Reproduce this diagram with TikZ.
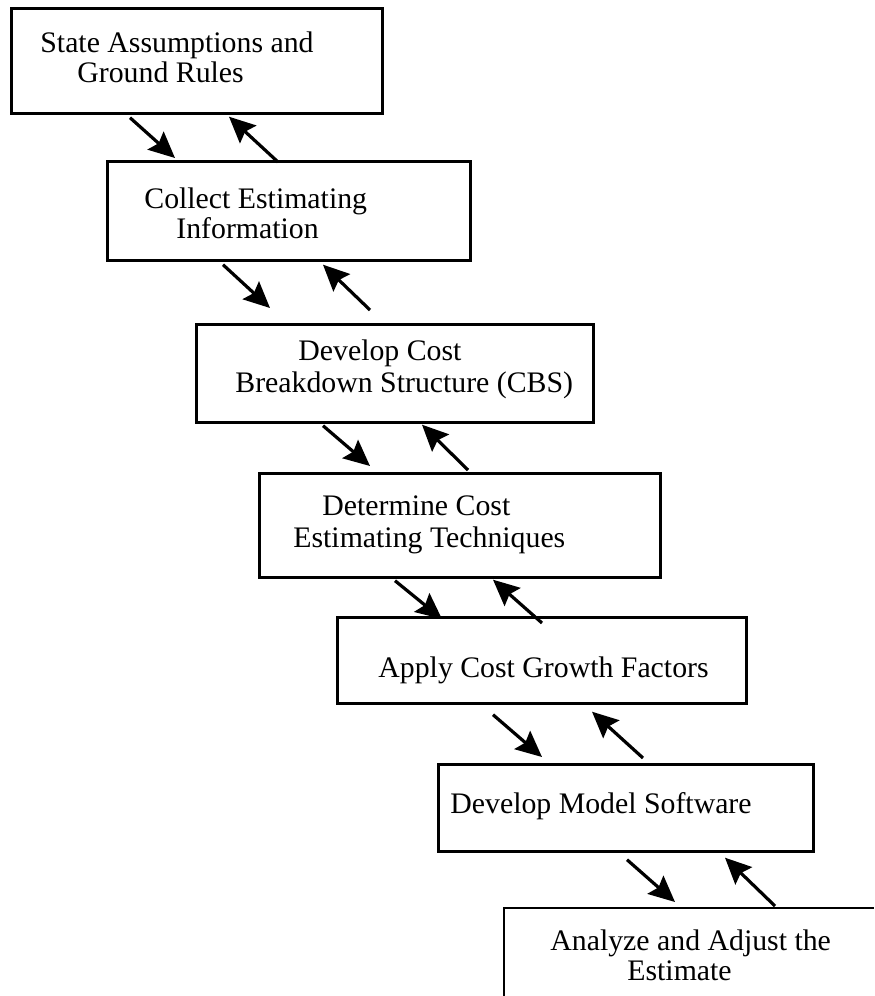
\documentclass[tikz,border=0pt]{standalone}
\usepackage{fontspec}
\setmainfont{Liberation Serif}
\usetikzlibrary{arrows.meta}
\begin{document}
\begin{tikzpicture}[x=0.5pt,y=-0.5pt,
  box/.style={draw, line width=1.35pt, anchor=north west, inner sep=0pt},
  lbl/.style={anchor=base west, inner sep=0pt, font=\fontsize{14.9}{16}\selectfont},
  arr/.style={line width=1.6pt, -{Stealth[length=13pt,width=12pt,inset=2pt]}}]
\useasboundingbox (0,0) rectangle (874,996);

% process boxes
\node[box, minimum width=185.5pt, minimum height=52.5pt] (b1) at (10,7) {};
\node[box, minimum width=181.5pt, minimum height=49.5pt] (b2) at (106,160) {};
\node[box, minimum width=198.5pt, minimum height=49pt]   (b3) at (195,323) {};
\node[box, minimum width=200.5pt, minimum height=52pt]   (b4) at (258,472) {};
\node[box, minimum width=204.5pt, minimum height=43pt]   (b5) at (336,616) {};
\node[box, minimum width=187.5pt, minimum height=43.5pt] (b6) at (437,763) {};
% last box runs off the right edge of the page
\node[box, draw=none, minimum width=230pt, minimum height=43.5pt] (b7) at (504,908) {};
\draw[line width=1.35pt] (b7.south west) -- (b7.north west) -- ([shift={(370,0)}]b7.north west);
\draw[line width=1.35pt] ([shift={(173,0)}]b7.south west) -- ([shift={(370,0)}]b7.south west);

% box texts
\node[lbl] (t1a) at (40,52)  {State Assumptions and};
\node[lbl] (t1b) at (77,82)  {Ground Rules};
\node[lbl] (t2a) at (144,208) {Collect Estimating};
\node[lbl] (t2b) at (176,238) {Information};
\node[lbl] (t3a) at (298,360) {Develop Cost};
\node[lbl] (t3b) at (235,392) {Breakdown Structure (CBS)};
\node[lbl] (t4a) at (322,515) {Determine Cost};
\node[lbl] (t4b) at (293,547) {Estimating Techniques};
\node[lbl] (t5a) at (378,677) {Apply Cost Growth Factors};
\node[lbl] (t6a) at (450,813) {Develop Model Software};
\node[lbl] (t7a) at (550,950) {Analyze and Adjust the};
\node[lbl] (t7b) at (627,980) {Estimate};

% forward and feedback arrows between successive steps
\draw[arr] ([shift={(120,3)}]b1.south west) -- ([shift={(69,-2)}]b2.north west);
\draw[arr] ([shift={(172,2)}]b2.north west) -- ([shift={(219,2)}]b1.south west);

\draw[arr] ([shift={(117,3)}]b2.south west) -- ([shift={(75,-15)}]b3.north west);
\draw[arr] ([shift={(175,-13)}]b3.north west) -- ([shift={(217,3)}]b2.south west);

\draw[arr] ([shift={(128,2)}]b3.south west) -- ([shift={(112,-6)}]b4.north west);
\draw[arr] ([shift={(210,-2)}]b4.north west) -- ([shift={(227,1)}]b3.south west);

\draw[arr] ([shift={(137,2)}]b4.south west) -- ([shift={(106,3)}]b5.north west);
\draw[arr] ([shift={(206,7)}]b5.north west) -- ([shift={(235,1)}]b4.south west);

\draw[arr] ([shift={(157,10)}]b5.south west) -- ([shift={(105,-6)}]b6.north west);
\draw[arr] ([shift={(206,-5)}]b6.north west) -- ([shift={(256,7)}]b5.south west);

\draw[arr] ([shift={(190,7)}]b6.south west) -- ([shift={(171,-6)}]b7.north west);
\draw[arr] ([shift={(271,-2)}]b7.north west) -- ([shift={(288,5)}]b6.south west);
\end{tikzpicture}
\end{document}
